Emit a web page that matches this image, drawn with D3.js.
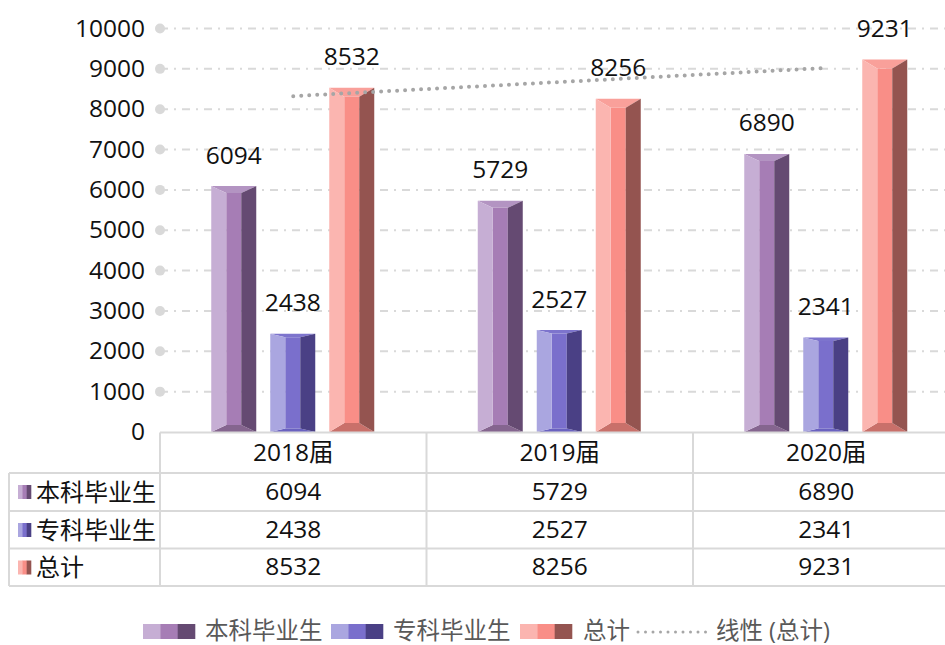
<!DOCTYPE html>
<html>
<head>
<meta charset="utf-8">
<script src="https://cdn.jsdelivr.net/npm/d3@7"></script>
<style>
html, body { margin: 0; padding: 0; background: #fff; }
svg { display: block; }
text { font-family: "Open Sans", "Noto Sans CJK SC", sans-serif; }
</style>
</head>
<body>
<div id="chart"></div>
<script>
var categories = ["2018届", "2019届", "2020届"];
var seriesNames = ["本科毕业生", "专科毕业生", "总计"];
var benke = [6094, 5729, 6890];
var zhuanke = [2438, 2527, 2341];
var zongji = [8532, 8256, 9231];
var trendName = "线性 (总计)";
var trendValues = [8324, 9023];
var yTicks = [0, 1000, 2000, 3000, 4000, 5000, 6000, 7000, 8000, 9000, 10000];

var seriesValues = [benke, zhuanke, zongji];
var colors = [
  { left: "#c6aed4", mid: "#a67db5", right: "#654a72", top: "#b394c2", bottom: "#85658f", bev: 7 },
  { left: "#aaa6e0", mid: "#7a6fcc", right: "#4a4085", top: "#7d74cd", bottom: "#6a62c0", bev: 3.5 },
  { left: "#fbb5b0", mid: "#f98e87", right: "#945450", top: "#f9a09a", bottom: "#c9706a", bev: 9 }
];

var width = 945, height = 645;
var fontSize = 24.5;
var svg = d3.select("#chart").append("svg")
    .attr("width", width)
    .attr("height", height);

var y = d3.scaleLinear().domain([0, 10000]).range([432, 28.5]);
var x = d3.scaleBand().domain(categories).range([160, 959.5]);
var xs = d3.scaleBand().domain(d3.range(3)).range([-82, 81]).paddingInner(14 / 59);

// gridlines
var grid = svg.append("g");
yTicks.slice(1).forEach(function(t) {
  grid.append("line")
    .attr("x1", 160).attr("x2", 945)
    .attr("y1", y(t)).attr("y2", y(t))
    .attr("stroke", "#d9d9d9").attr("stroke-width", 2)
    .attr("stroke-dasharray", "8 6 2 6");
  grid.append("circle")
    .attr("cx", 160).attr("cy", y(t)).attr("r", 5)
    .attr("fill", "#d9d9d9");
});

// y axis labels
svg.append("g").selectAll("text").data(yTicks).enter().append("text")
    .attr("x", 145)
    .attr("y", function(d) { return y(d) + 8; })
    .attr("text-anchor", "end")
    .attr("font-size", fontSize)
    .attr("fill", "#111")
    .text(function(d) { return d; });

// bevelled bars
var bars = svg.append("g");
var labels = [];
categories.forEach(function(cat, c) {
  seriesValues.forEach(function(vals, s) {
    var x0 = x(cat) + x.bandwidth() / 2 + xs(s);
    var w = xs.bandwidth();
    var x1 = x0 + w;
    var yt = y(vals[c]);
    var yb = y(0);
    var inL = x0 + w / 3;
    var inR = x1 - w / 3;
    var col = colors[s];
    var bev = col.bev;
    var g = bars.append("g");
    function poly(pts, fill) {
      g.append("polygon")
        .attr("points", pts.map(function(p) { return p.join(","); }).join(" "))
        .attr("fill", fill);
    }
    poly([[inL, yt + bev], [inR, yt + bev], [inR, yb - bev], [inL, yb - bev]], col.mid);
    poly([[x0, yt], [x1, yt], [inR, yt + bev], [inL, yt + bev]], col.top);
    poly([[x0, yb], [x1, yb], [inR, yb - bev], [inL, yb - bev]], col.bottom);
    poly([[x0, yt], [inL, yt + bev], [inL, yb - bev], [x0, yb]], col.left);
    poly([[x1, yt], [inR, yt + bev], [inR, yb - bev], [x1, yb]], col.right);
    labels.push({ x: x0 + w / 2, y: yt - 22.5, v: vals[c] });
  });
});

// trend line
var cx = function(cat) { return x(cat) + x.bandwidth() / 2; };
svg.append("line")
    .attr("x1", cx(categories[0])).attr("x2", cx(categories[2]))
    .attr("y1", y(trendValues[0])).attr("y2", y(trendValues[1]))
    .attr("stroke", "#a6a6a6").attr("stroke-width", 4)
    .attr("stroke-linecap", "round")
    .attr("stroke-dasharray", "0 8");

svg.append("g").selectAll("text").data(labels).enter().append("text")
    .attr("x", function(d) { return d.x; })
    .attr("y", function(d) { return d.y; })
    .attr("text-anchor", "middle")
    .attr("font-size", fontSize)
    .attr("fill", "#111")
    .text(function(d) { return d.v; });

// data table
var rowY = [432.5, 473, 511, 548.5, 586];
var tableLeft = 9;
var table = svg.append("g").attr("stroke", "#d9d9d9").attr("stroke-width", 2).attr("fill", "none");
table.append("line").attr("x1", x.range()[0]).attr("x2", 945).attr("y1", rowY[0]).attr("y2", rowY[0]);
rowY.slice(1).forEach(function(ry) {
  table.append("line").attr("x1", tableLeft).attr("x2", 945).attr("y1", ry).attr("y2", ry);
});
categories.forEach(function(cat) {
  table.append("line").attr("x1", x(cat)).attr("x2", x(cat)).attr("y1", rowY[0]).attr("y2", rowY[4]);
});
table.append("line").attr("x1", tableLeft).attr("x2", tableLeft).attr("y1", rowY[1]).attr("y2", rowY[4]);

categories.forEach(function(cat, c) {
  svg.append("text")
    .attr("x", cx(cat)).attr("y", rowY[1] - 12)
    .attr("text-anchor", "middle").attr("font-size", fontSize).attr("fill", "#111")
    .text(cat);
  seriesValues.forEach(function(vals, s) {
    svg.append("text")
      .attr("x", cx(cat)).attr("y", rowY[s + 2] - 11)
      .attr("text-anchor", "middle").attr("font-size", fontSize).attr("fill", "#111")
      .text(vals[c]);
  });
});

function swatch(sx, sy, w, h, col) {
  var sw = w / 3;
  [col.left, col.mid, col.right].forEach(function(f, i) {
    svg.append("rect")
      .attr("x", sx + i * sw).attr("y", sy)
      .attr("width", sw + 0.3).attr("height", h)
      .attr("fill", f);
  });
}

seriesNames.forEach(function(name, s) {
  swatch(18, rowY[s + 1] + 12, 13, 14, colors[s]);
  svg.append("text")
    .attr("x", 36).attr("y", rowY[s + 2] - 10)
    .attr("font-size", 24).attr("fill", "#111")
    .text(name);
});

// legend
var legendX = [143, 331, 520];
var legendText = [205, 393, 583];
var legendY = 638.5;
seriesNames.forEach(function(name, s) {
  swatch(legendX[s], 624, 52, 15, colors[s]);
  svg.append("text")
    .attr("x", legendText[s]).attr("y", legendY)
    .attr("font-size", 23.5).attr("fill", "#595959")
    .text(name);
});
svg.append("line")
    .attr("x1", 638).attr("x2", 706).attr("y1", 632).attr("y2", 632)
    .attr("stroke", "#a6a6a6").attr("stroke-width", 3)
    .attr("stroke-linecap", "round")
    .attr("stroke-dasharray", "0 7.5");
svg.append("text")
    .attr("x", 716).attr("y", legendY)
    .attr("font-size", 23.5).attr("fill", "#595959")
    .text(trendName);
</script>
</body>
</html>
